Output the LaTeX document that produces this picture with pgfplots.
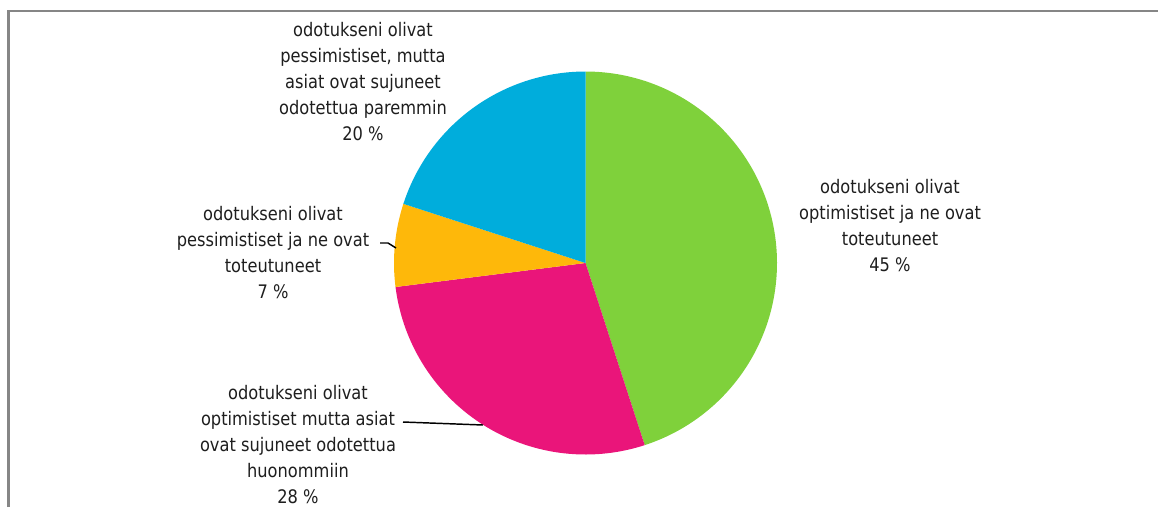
\documentclass[border=0pt]{standalone}
\usepackage{fontspec}
\setmainfont{DejaVu Sans}[FakeStretch=0.87]
\usepackage{pgfplots}
\pgfplotsset{compat=1.18}
\definecolor{cGreen}{HTML}{7FD13B}
\definecolor{cPink}{HTML}{EA157A}
\definecolor{cYellow}{HTML}{FEB80A}
\definecolor{cBlue}{HTML}{00ADDC}
\definecolor{cFrame}{HTML}{868686}
\definecolor{cText}{HTML}{1E1E1E}
\tikzset{lbl/.style={font=\fontsize{14}{19.5}\selectfont, text=cText, align=center, inner sep=0pt}}
% shares in percent
\def\vA{45}% optimistiset ja toteutuneet
\def\vB{28}% optimistiset, huonommin
\def\vC{7}%  pessimistiset ja toteutuneet
\def\vD{20}% pessimistiset, paremmin
\pgfmathsetmacro\aA{90}
\pgfmathsetmacro\aB{90-3.6*\vA}
\pgfmathsetmacro\aC{90-3.6*(\vA+\vB)}
\pgfmathsetmacro\aD{90-3.6*(\vA+\vB+\vC)}
\pgfmathsetmacro\aE{90-3.6*(\vA+\vB+\vC+\vD)}
\def\cx{585.5}
\def\cy{263}
\def\rr{191.5}
\begin{document}
\begin{tikzpicture}
\begin{axis}[
  scale only axis, width=868.5pt, height=380.25pt,
  xmin=0, xmax=1158, ymin=0, ymax=507, y dir=reverse,
  axis lines=none, clip=false,
]
% frame
\addplot[cFrame, line width=1.6pt, line cap=butt] coordinates {(8.5,507) (8.5,11) (1158,11)};
% pie slices
\addplot[fill=cGreen, draw=none, domain=\aB:\aA, samples=120, variable=\t]
  ({\cx+\rr*cos(\t)},{\cy-\rr*sin(\t)}) -- (axis cs:\cx,\cy) -- cycle;
\addplot[fill=cPink, draw=none, domain=\aC:\aB, samples=80, variable=\t]
  ({\cx+\rr*cos(\t)},{\cy-\rr*sin(\t)}) -- (axis cs:\cx,\cy) -- cycle;
\addplot[fill=cYellow, draw=none, domain=\aD:\aC, samples=30, variable=\t]
  ({\cx+\rr*cos(\t)},{\cy-\rr*sin(\t)}) -- (axis cs:\cx,\cy) -- cycle;
\addplot[fill=cBlue, draw=none, domain=\aE:\aD, samples=60, variable=\t]
  ({\cx+\rr*cos(\t)},{\cy-\rr*sin(\t)}) -- (axis cs:\cx,\cy) -- cycle;
% leader lines
\addplot[black, line width=1.1pt] coordinates {(380,243) (388,243) (396,248)};
\addplot[black, line width=1.1pt] coordinates {(403,422) (483,425)};
% labels
\node[lbl] at (axis cs:363,82) {odotukseni olivat\\pessimistiset, mutta\\asiat ovat sujuneet\\odotettua paremmin\\20 \%};
\node[lbl] at (axis cs:890,226) {odotukseni olivat\\optimistiset ja ne ovat\\toteutuneet\\45 \%};
\node[lbl] at (axis cs:273,253) {odotukseni olivat\\pessimistiset ja ne ovat\\toteutuneet\\7 \%};
\node[lbl] at (axis cs:298,445) {odotukseni olivat\\optimistiset mutta asiat\\ovat sujuneet odotettua\\huonommiin\\28 \%};
\end{axis}
\pgfresetboundingbox
\path[use as bounding box] (current axis.south west) rectangle (current axis.north east);
\end{tikzpicture}
\end{document}
